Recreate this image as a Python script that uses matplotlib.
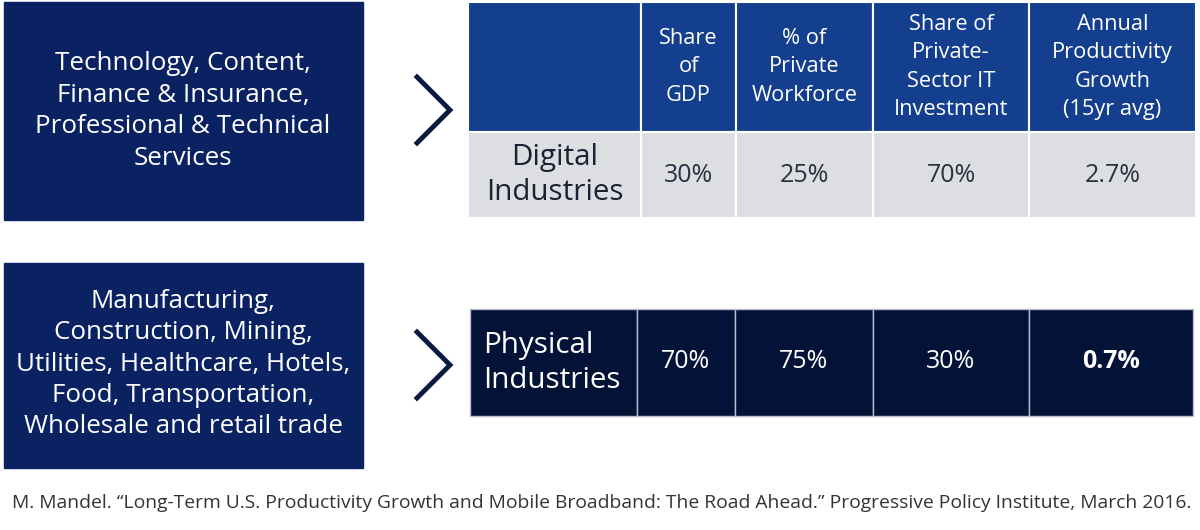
import matplotlib.pyplot as plt
from matplotlib.patches import Rectangle

plt.rcParams['font.family'] = ['Open Sans', 'DejaVu Sans']

# contents
left_top = 'Technology, Content,\nFinance & Insurance,\nProfessional & Technical\nServices'
left_bottom = ('Manufacturing,\nConstruction, Mining,\nUtilities, Healthcare, Hotels,\n'
               'Food, Transportation,\nWholesale and retail trade')
headers = ['', 'Share\nof\nGDP', '% of\nPrivate\nWorkforce', 'Share of\nPrivate-\nSector IT\nInvestment',
           'Annual\nProductivity\nGrowth\n(15yr avg)']
digital = ['Digital\nIndustries', '30%', '25%', '70%', '2.7%']
physical = ['Physical\nIndustries', '70%', '75%', '30%', '0.7%']
footnote = ('M. Mandel. \u201cLong-Term U.S. Productivity Growth and Mobile Broadband: The Road Ahead.\u201d '
            'Progressive Policy Institute, March 2016.')

# layout (pixels)
top_cols = [468, 641, 736, 873, 1029, 1196]
bot_cols = [470, 637, 735, 873, 1029, 1193]

navy = '#0b2262'
header_blue = '#133f8e'
gray = '#dcdee1'
dark = '#031237'

fig = plt.figure(figsize=(12, 5.3), dpi=100)
ax = fig.add_axes([0, 0, 1, 1])
ax.set_xlim(0, 1200)
ax.set_ylim(530, 0)
ax.axis('off')

# left boxes
ax.add_patch(Rectangle((4, 2), 359, 218, color=navy))
ax.text(183, 111, left_top, ha='center', va='center', color='white', fontsize=18.7, linespacing=1.34)
ax.add_patch(Rectangle((4, 263), 359, 205, color=navy))
ax.text(183, 364, left_bottom, ha='center', va='center', color='white', fontsize=18.7, linespacing=1.34)

# chevrons
for yc in (110, 365):
    ax.plot([417, 450, 417], [yc - 33, yc, yc + 33], color='#0a1a40', lw=3.5, solid_joinstyle='miter')

# top table
for i in range(5):
    x0, x1 = top_cols[i], top_cols[i + 1]
    ax.add_patch(Rectangle((x0, 2), x1 - x0, 130, facecolor=header_blue, edgecolor='white', lw=1.5))
    ax.add_patch(Rectangle((x0, 132), x1 - x0, 86, facecolor=gray, edgecolor='white', lw=1.5))
    xc = (x0 + x1) / 2
    ax.text(xc, 67, headers[i], ha='center', va='center', color='white', fontsize=15.7, linespacing=1.47)
    if i == 0:
        ax.text(xc, 175, digital[i], ha='center', va='center', color='#1a2233', fontsize=21.3, linespacing=1.27)
    else:
        ax.text(xc, 175, digital[i], ha='center', va='center', color='#2a3040', fontsize=18)

# bottom table
for i in range(5):
    x0, x1 = bot_cols[i], bot_cols[i + 1]
    ax.add_patch(Rectangle((x0, 309), x1 - x0, 107, facecolor=dark, edgecolor='#b8bccc', lw=1))
    if i == 0:
        ax.text(483, 363, physical[i], ha='left', va='center', color='white', fontsize=21.3, linespacing=1.27)
    else:
        ax.text((x0 + x1) / 2, 362, physical[i], ha='center', va='center', color='white', fontsize=18,
                fontweight='bold' if i == 4 else 'normal')

ax.text(12, 503, footnote, ha='left', va='center', color='#333333', fontsize=13.9)

fig.savefig('out.png', dpi=100)
